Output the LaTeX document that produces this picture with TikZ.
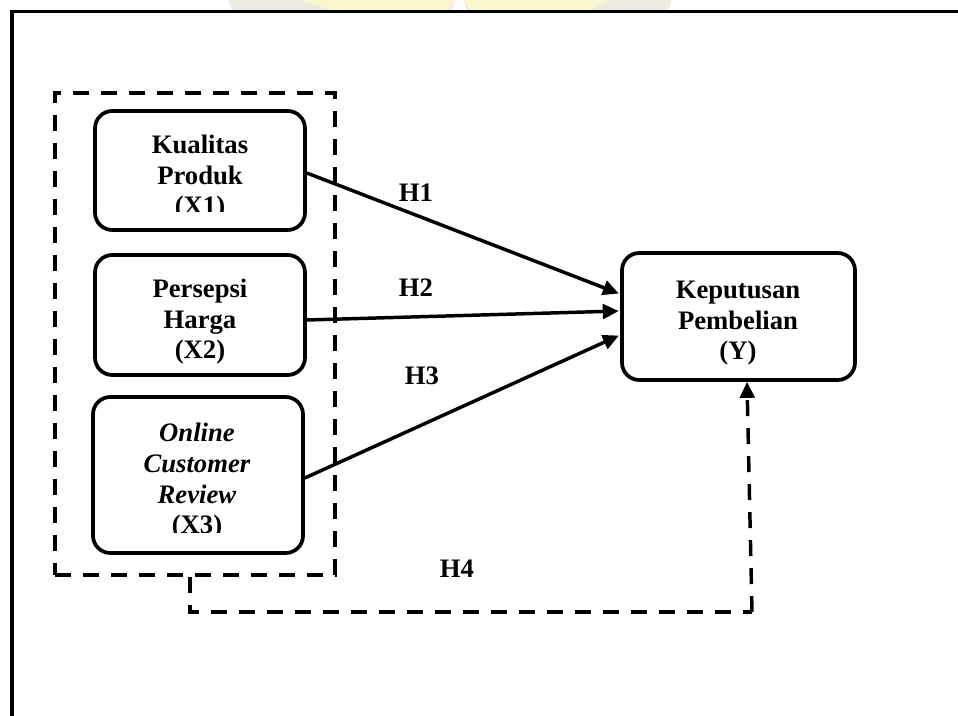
\documentclass[tikz,border=0pt]{standalone}
\usepackage{fontspec}
\setmainfont{Liberation Serif}
\usetikzlibrary{arrows.meta,calc}
\definecolor{wmyellow}{RGB}{250,246,208}
\definecolor{wmgrey}{RGB}{238,236,226}
\tikzset{
  box/.style={draw, line width=2.8pt, rounded corners=13pt, inner sep=0pt},
  lbl/.style={font=\bfseries\fontsize{20}{23.2}\selectfont, inner sep=0pt, anchor=base},
  btxt/.style={font=\bfseries\fontsize{20}{23.2}\selectfont, inner sep=0pt, align=center, anchor=base},
  conn/.style={line width=2.6pt, -{Triangle[length=12pt,width=11pt]}, shorten >=1pt},
  dashline/.style={line width=2.6pt, dash pattern=on 12pt off 9pt},
}
\begin{document}
\begin{tikzpicture}[x=0.75pt,y=-0.75pt]
\useasboundingbox (0,0) rectangle (958,716);
% faint watermark at the top
\fill[wmgrey] (228,0) -- (455,0) -- (452,10) -- (232,10) -- cycle;
\fill[wmyellow] (300,0) -- (455,0) -- (448,10) -- (330,10) -- cycle;
\fill[wmgrey] (463,0) -- (672,0) -- (668,10) -- (467,10) -- cycle;
\fill[wmyellow] (463,0) -- (610,0) -- (590,10) -- (470,10) -- cycle;
% outer frame
\draw[line width=2.4pt] (12,740) -- (12,11.5) -- (980,11.5);
% dashed group box
\node[draw, dashline, minimum width=210pt, minimum height=361.5pt, inner sep=0pt] (dbox) at (195,334) {};
% boxes
\node[box, minimum width=157.5pt, minimum height=89.25pt] (x1) at (200,170.5) {};
\node[box, minimum width=157.5pt, minimum height=90pt] (x2) at (200,315) {};
\node[box, minimum width=157.5pt, minimum height=117pt] (x3) at (198,475) {};
\node[box, minimum width=174.75pt, minimum height=95.25pt] (y) at (738.5,316.5) {};
% box texts (anchor base = last line's baseline)
\begin{scope}
\clip (100,115) rectangle (300,212);
\node[btxt] (t1) at (200,215) {Kualitas\\Produk\\(X1)};
\end{scope}
\node[btxt] (t2) at (200,359) {Persepsi\\Harga\\(X2)};
\begin{scope}
\clip (100,400) rectangle (300,533);
\node[btxt] (t3) at (197,534) {\textit{Online}\\\textit{Customer}\\\textit{Review}\\(X3)};
\end{scope}
\node[btxt] (ty) at (738,360) {Keputusan\\Pembelian\\(Y)};
% connectors
\draw[conn] ($(x1.east)+(0,2.5)$) -- ($(y.west)+(0,-22.5)$);
\draw[conn] ($(x2.east)+(0,5)$) -- ($(y.west)+(0,-5.5)$);
\draw[conn] ($(x3.east)+(0,3)$) -- ($(y.west)+(0,18.5)$);
\coordinate (c1) at (190,612);
\coordinate (c2) at (752,612);
\draw[dashline] (dbox.south -| c1) -- (c1) -- (c2);
\draw[line width=2.6pt, dash pattern=on 12pt off 9pt, -{Triangle[length=12pt,width=11pt]}] (c2) -- ($(y.south)+(8.5,0)$);
% labels
\node[lbl] (h1) at (416,202) {H1};
\node[lbl] (h2) at (416,297) {H2};
\node[lbl] (h3) at (422,385) {H3};
\node[lbl] (h4) at (457,578) {H4};
\end{tikzpicture}
\end{document}
